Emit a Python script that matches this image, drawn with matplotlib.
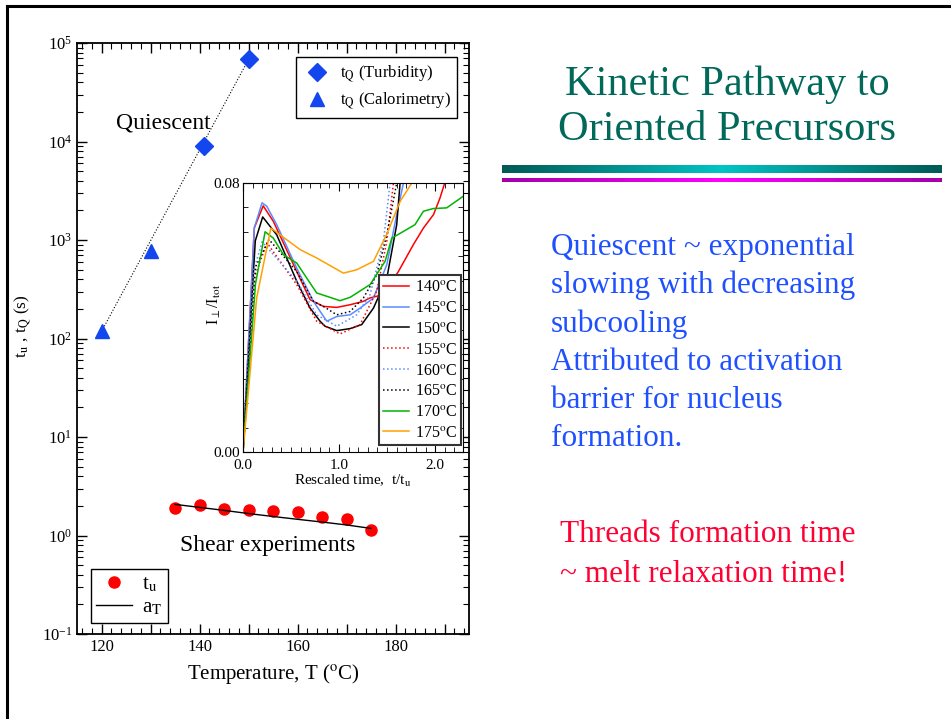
import numpy as np
import matplotlib
matplotlib.use("Agg")
import matplotlib.pyplot as plt
from matplotlib.ticker import MultipleLocator, FixedLocator, FuncFormatter, LogLocator, NullFormatter
from matplotlib.colors import LinearSegmentedColormap

plt.rcParams['font.family'] = ['Liberation Serif', 'DejaVu Serif']
plt.rcParams['mathtext.fontset'] = 'stix'

# quiescent crystallization times
turb_T = [141, 150]
turb_t = [9000, 68000]
calor_T = [120, 130]
calor_t = [118, 780]
fit_T = [120, 150]
fit_t = [118, 68000]

# shear experiments
shear_T = [135, 140, 145, 150, 155, 160, 165, 170, 175]
shear_tu = [1.91, 2.04, 1.85, 1.82, 1.77, 1.72, 1.55, 1.46, 1.13]
aT_T = [135, 140, 145, 150, 155, 160, 165, 170, 175]
aT_vals = [2.07, 1.93, 1.80, 1.67, 1.56, 1.46, 1.37, 1.28, 1.18]

# inset: I_perp/I_tot vs rescaled time
curve_labels = ['140', '145', '150', '155', '160', '165', '170', '175']
curve_colors = ['#ff0000', '#5b8cff', '#000000', '#ff0000', '#5b8cff', '#000000', '#00b400', '#ffa000']
curve_styles = ['-', '-', '-', ':', ':', ':', '-', '-']
curve_x = [
    [0, 0.118, 0.21, 0.316, 0.559, 0.698, 0.837, 0.976, 1.115, 1.253, 1.32, 1.392, 1.45, 1.53, 1.618, 1.774, 1.878, 1.983, 2.05, 2.10],
    [0, 0.118, 0.198, 0.247, 0.351, 0.559, 0.733, 0.872, 0.976, 1.115, 1.219, 1.358, 1.497, 1.60, 1.67],
    [0, 0.128, 0.205, 0.351, 0.559, 0.698, 0.802, 0.854, 0.976, 1.115, 1.236, 1.358, 1.497, 1.60, 1.635],
    [0, 0.12, 0.25, 0.559, 0.767, 1.01, 1.219, 1.392, 1.497, 1.566],
    [0, 0.11, 0.20, 0.559, 0.767, 0.976, 1.184, 1.323, 1.462, 1.531],
    [0, 0.13, 0.27, 0.559, 0.733, 0.837, 0.976, 1.115, 1.253, 1.392, 1.497, 1.60],
    [0, 0.13, 0.23, 0.316, 0.42, 0.559, 0.767, 1.01, 1.115, 1.323, 1.479, 1.549, 1.67, 1.79, 1.878, 1.98, 2.12, 2.29],
    [0, 0.142, 0.29, 0.594, 0.767, 1.045, 1.184, 1.358, 1.50, 1.635, 1.757],
]
curve_y = [
    [0, 0.0667, 0.0732, 0.0686, 0.0537, 0.0453, 0.0433, 0.0430, 0.0438, 0.0448, 0.0458, 0.0463, 0.0470, 0.0498, 0.0537, 0.0617, 0.0666, 0.0706, 0.0755, 0.080],
    [0, 0.0667, 0.0741, 0.0731, 0.0676, 0.0547, 0.0448, 0.0389, 0.0403, 0.0408, 0.0428, 0.0458, 0.0557, 0.0706, 0.080],
    [0, 0.0628, 0.0699, 0.0646, 0.0508, 0.0428, 0.0389, 0.0374, 0.0361, 0.0367, 0.0379, 0.0428, 0.0517, 0.0676, 0.080],
    [0, 0.052, 0.0622, 0.0498, 0.0389, 0.0351, 0.0379, 0.0478, 0.0627, 0.080],
    [0, 0.054, 0.0625, 0.0508, 0.0408, 0.0374, 0.0408, 0.0468, 0.0627, 0.080],
    [0, 0.055, 0.0632, 0.0537, 0.0448, 0.0433, 0.0408, 0.0418, 0.0458, 0.0527, 0.0646, 0.080],
    [0, 0.050, 0.0655, 0.0636, 0.0587, 0.0562, 0.0473, 0.0450, 0.0460, 0.0498, 0.0567, 0.0636, 0.0656, 0.0676, 0.0716, 0.0724, 0.0726, 0.0760],
    [0, 0.0458, 0.0666, 0.0602, 0.0577, 0.0532, 0.0542, 0.0567, 0.0650, 0.0745, 0.080],
]

fig = plt.figure(figsize=(9.51, 7.19), dpi=100)
W, H = 951, 719


def px_rect(x0, y0, x1, y1):
    return [x0 / W, 1 - y1 / H, (x1 - x0) / W, (y1 - y0) / H]


# slide frame
fig.add_artist(plt.Line2D([7 / W, 1], [1 - 6 / H, 1 - 6 / H], color='black', lw=2.2))
fig.add_artist(plt.Line2D([7 / W, 7 / W], [0, 1 - 6 / H], color='black', lw=2.2))

# ---- main plot
ax = fig.add_axes(px_rect(77, 43, 469, 634))
ax.plot(fit_T, fit_t, ':', color='black', lw=0.8)
ax.plot(turb_T, turb_t, 'D', color='#1446f0', ms=9.5, ls='none', label=r't$_\mathrm{Q}$ (Turbidity)')
ax.plot(calor_T, calor_t, '^', color='#1446f0', ms=9.5, ls='none', label=r't$_\mathrm{Q}$ (Calorimetry)')
h1, = ax.plot(shear_T, shear_tu, 'o', color='#ff0000', ms=8, ls='none', label=r't$_\mathrm{u}$')
h2, = ax.plot(aT_T, aT_vals, '-', color='black', lw=1.0, label=r'a$_\mathrm{T}$')

ax.set_yscale('log')
ax.set_xlim(115, 195)
ax.set_ylim(0.1, 1e5)
ax.xaxis.set_major_locator(MultipleLocator(10))
ax.xaxis.set_minor_locator(MultipleLocator(2))
ax.xaxis.set_major_formatter(FuncFormatter(lambda v, p: f'{v:.0f}' if round(v) % 20 == 0 else ''))
ax.yaxis.set_major_locator(LogLocator(base=10, numticks=10))
ax.yaxis.set_minor_locator(LogLocator(base=10, subs=np.arange(2, 10), numticks=20))
ax.yaxis.set_minor_formatter(NullFormatter())
ax.tick_params(which='both', direction='in', top=True, right=True, labelsize=12)
ax.tick_params(which='major', length=7, width=1)
ax.tick_params(which='minor', length=4, width=0.8)
for s in ax.spines.values():
    s.set_linewidth(1.3)
ax.set_xlabel(r'Temperature, T ($^\mathrm{o}$C)', fontsize=15, labelpad=5)
ax.set_ylabel(r't$_\mathrm{u}$ , t$_\mathrm{Q}$ (s)', fontsize=12.5)
ax.yaxis.set_label_coords(-0.11, 0.52)

ax.text(123, 15500, 'Quiescent', fontsize=17, va='center', ha='left')
ax.text(136, 0.79, 'Shear experiments', fontsize=17, va='center', ha='left')

handles, labels = ax.get_legend_handles_labels()
leg1 = ax.legend(handles[:2], labels[:2], loc='upper right', bbox_to_anchor=(0.969, 0.976),
                 borderaxespad=0, fontsize=12, fancybox=False, edgecolor='black', framealpha=1,
                 handletextpad=0.5, borderpad=0.35, labelspacing=0.35, handlelength=1.8)
leg1.get_frame().set_linewidth(1)
ax.add_artist(leg1)
leg2 = ax.legend([h1, h2], [r't$_\mathrm{u}$', r'a$_\mathrm{T}$'], loc='lower left',
                 bbox_to_anchor=(0.036, 0.019), borderaxespad=0, fontsize=15, fancybox=False,
                 edgecolor='black', framealpha=1, handletextpad=0.5, borderpad=0.25,
                 labelspacing=0.2, handlelength=1.7)
leg2.get_frame().set_linewidth(1)

# ---- inset
ins = fig.add_axes(px_rect(243, 183, 463, 452))
for lab, xs, ys, c, st in zip(curve_labels, curve_x, curve_y, curve_colors, curve_styles):
    ins.plot(xs, ys, st, color=c, lw=1.1, label=lab + r'$^\mathrm{o}$C')
ins.set_xlim(0, 2.29)
ins.set_ylim(0, 0.08)
ins.xaxis.set_major_locator(MultipleLocator(1.0))
ins.xaxis.set_minor_locator(MultipleLocator(0.1))
ins.xaxis.set_major_formatter(FuncFormatter(lambda v, p: f'{v:.1f}'))
ins.yaxis.set_major_locator(FixedLocator([0.0, 0.08]))
ins.yaxis.set_minor_locator(FixedLocator(np.linspace(0, 0.08, 12)))
ins.yaxis.set_major_formatter(FuncFormatter(lambda v, p: f'{v:.2f}'))
ins.tick_params(which='both', direction='in', top=True, right=True, labelsize=11, pad=2)
ins.tick_params(axis='x', pad=5)
ins.tick_params(which='major', length=6)
ins.tick_params(which='minor', length=3.5)
ins.set_xlabel(r'Rescaled time,  t/t$_\mathrm{u}$', fontsize=11, labelpad=1)
ins.set_ylabel(r'I$_\perp$/I$_\mathrm{tot}$', fontsize=11.5)
ins.yaxis.set_label_coords(-0.09, 0.55)
leg3 = ins.legend(loc='lower right', bbox_to_anchor=(1.0, 0.02), fontsize=11.5, fancybox=False,
                  edgecolor='#333333', framealpha=1, handlelength=1.6, handletextpad=0.4,
                  borderpad=0.25, labelspacing=0.3, borderaxespad=0.1)
leg3.get_frame().set_linewidth(1.5)

# ---- title and bars
teal = '#00695a'
fig.text(727 / W, 1 - 85 / H, 'Kinetic Pathway to', fontsize=30.5, color=teal, ha='center', va='center')
fig.text(727 / W, 1 - 130 / H, 'Oriented Precursors', fontsize=30.5, color=teal, ha='center', va='center')

grad = np.concatenate([np.linspace(0, 1, 128), np.linspace(1, 0, 128)]).reshape(1, -1)
teal_cmap = LinearSegmentedColormap.from_list('tealbar', ['#005a55', '#00c4c4'])
mag_cmap = LinearSegmentedColormap.from_list('magbar', ['#a000a8', '#ff00ff'])
bar1 = fig.add_axes(px_rect(502, 165, 942, 173))
bar1.imshow(grad, aspect='auto', cmap=teal_cmap)
bar1.axis('off')
bar2 = fig.add_axes(px_rect(502, 178, 942, 182))
bar2.imshow(grad, aspect='auto', cmap=mag_cmap)
bar2.axis('off')

# ---- bullet text
blue_lines = ['Quiescent ~ exponential', 'slowing with decreasing', 'subcooling',
              'Attributed to activation', 'barrier for nucleus', 'formation.']
for i, line in enumerate(blue_lines):
    fig.text(551 / W, 1 - (247 + i * 38.4) / H, line, fontsize=22.5, color='#1f50ff', ha='left', va='center')
red_lines = ['Threads formation time', '~ melt relaxation time!']
for i, line in enumerate(red_lines):
    fig.text(560 / W, 1 - (535 + i * 40) / H, line, fontsize=22.5, color='#ff0033', ha='left', va='center')

fig.savefig('out.png', dpi=100)
